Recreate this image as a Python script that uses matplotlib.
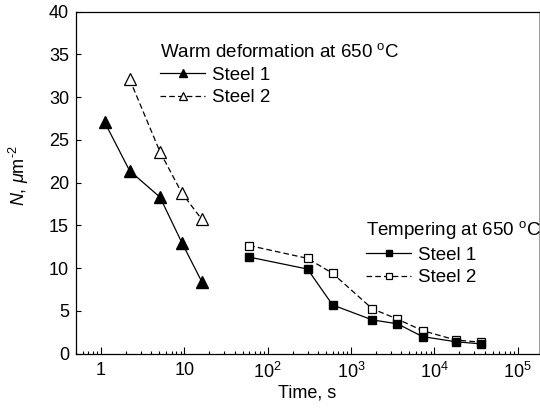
import matplotlib
matplotlib.use("Agg")
import matplotlib.pyplot as plt
from matplotlib.ticker import LogLocator, NullFormatter, FixedLocator, FixedFormatter

plt.rcParams['font.family'] = ['Liberation Sans', 'DejaVu Sans']
plt.rcParams['mathtext.fontset'] = 'custom'
plt.rcParams['mathtext.rm'] = 'Liberation Sans'
plt.rcParams['mathtext.it'] = 'Liberation Sans:italic'

# ---- data ----
warm_time = [1.1, 2.2, 5.1, 9.3, 16.2]
warm_steel1 = [27.1, 21.4, 18.3, 13.0, 8.4]
warm_steel2 = [None, 32.1, 23.6, 18.8, 15.7]

temp_time = [60, 300, 600, 1800, 3600, 7200, 18000, 36000]
temp_steel1 = [11.3, 9.9, 5.7, 3.95, 3.5, 2.0, 1.4, 1.15]
temp_steel2 = [12.65, 11.15, 9.4, 5.25, 4.05, 2.7, 1.6, 1.35]

warm_title = r'Warm deformation at 650 $^{\mathrm{o}}$C'
temp_title = r'Tempering at 650 $^{\mathrm{o}}$C'
labels = ['Steel 1', 'Steel 2']
xlabel = 'Time, s'
ylabel = r'$N$, $\mu$m$^{\text{-2}}$'
yticks = [0, 5, 10, 15, 20, 25, 30, 35, 40]
xticks = [1, 10, 100, 1000, 10000, 100000]
xticklabels = ['1', '10', r'$10^{2}$', r'$10^{3}$', r'$10^{4}$', r'$10^{5}$']

W, H = 540, 409
fig = plt.figure(figsize=(W / 100, H / 100), dpi=100)
ax = fig.add_axes([76 / W, 1 - 353.7 / H, (539 - 76) / W, (353.7 - 11.7) / H])

lw = 0.9
dash = (0, (4.5, 2.5))
ms_tri = 8.5
ms_sq = 6.3

w2t = [t for t, v in zip(warm_time, warm_steel2) if v is not None]
w2v = [v for v in warm_steel2 if v is not None]

l1, = ax.plot(warm_time, warm_steel1, color='black', lw=lw, marker='^', ms=ms_tri,
              mfc='black', mec='black')
l2, = ax.plot(w2t, w2v, color='black', lw=lw, ls=dash, marker='^', ms=ms_tri,
              mfc='white', mec='black', mew=0.9)
l3, = ax.plot(temp_time, temp_steel1, color='black', lw=lw, marker='s', ms=ms_sq,
              mfc='black', mec='black', zorder=3)
l4, = ax.plot(temp_time, temp_steel2, color='black', lw=lw, ls=dash, marker='s', ms=ms_sq,
              mfc='white', mec='black', mew=0.9, zorder=2)

ax.set_xscale('log')
ax.set_xlim(0.5, 1.8e5)
ax.set_ylim(0, 40)
ax.yaxis.set_major_locator(FixedLocator(yticks))
ax.xaxis.set_major_locator(FixedLocator(xticks))
ax.xaxis.set_major_formatter(FixedFormatter(xticklabels))
ax.xaxis.set_minor_locator(LogLocator(base=10, subs=range(2, 10), numticks=20))
ax.xaxis.set_minor_formatter(NullFormatter())

ax.tick_params(axis='x', which='major', direction='in', length=5, width=0.8,
               labelsize=13, pad=6)
ax.tick_params(axis='x', which='minor', direction='in', length=2.5, width=0.8)
ax.tick_params(axis='y', which='major', direction='in', length=3.5, width=0.8,
               labelsize=13, pad=5)

for s in ['left', 'bottom', 'top']:
    ax.spines[s].set_linewidth(0.9)
ax.spines['right'].set_color('#a0a0a0')

ax.set_xlabel(xlabel, fontsize=13, labelpad=2)
ax.set_ylabel(ylabel, fontsize=13)
ax.yaxis.set_label_coords((31 - 76) / 463, (353.7 - 176) / 342)

leg_kw = dict(frameon=False, fontsize=13.5, title_fontsize=13.5, handlelength=2.4,
              handletextpad=0.4, labelspacing=0.3, borderpad=0, borderaxespad=0,
              markerscale=0.65, loc='upper left', alignment='left')
leg1 = ax.legend([l1, l2], labels, title=warm_title,
                 bbox_to_anchor=((160 - 76) / 463, (353.7 - 43) / 342), **leg_kw)
ax.add_artist(leg1)
leg2 = ax.legend([l3, l4], labels, title=temp_title,
                 bbox_to_anchor=((366 - 76) / 463, (353.7 - 219) / 342), **leg_kw)

fig.savefig('out.png', dpi=100)
